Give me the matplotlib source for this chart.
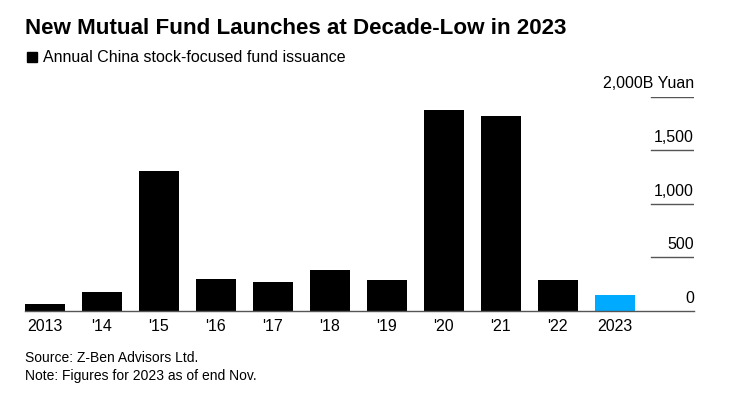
import matplotlib.pyplot as plt
import numpy as np

plt.rcParams['font.family'] = ['Liberation Sans', 'DejaVu Sans']

years = ['2013', "'14", "'15", "'16", "'17", "'18", "'19", "'20", "'21", "'22", '2023']
issuance = [65, 178, 1308, 299, 271, 383, 290, 1879, 1822, 290, 150]
colors = ['#000000'] * 10 + ['#00abff']
yticks = [0, 500, 1000, 1500, 2000]
ylabels = ['0', '500', '1,000', '1,500', '2,000B Yuan']

W, H = 748, 395
fig = plt.figure(figsize=(W / 100, H / 100), dpi=100)
ax = fig.add_axes([25 / W, 84 / H, (694 - 25) / W, (311 - 96.7) / H])

x = np.arange(len(years))
ax.bar(x, issuance, width=0.7, color=colors, zorder=2)
ax.set_xlim(-0.35, 11.39)
ax.set_ylim(0, 2000)

for s in ['top', 'right', 'left']:
    ax.spines[s].set_visible(False)
ax.spines['bottom'].set_color('#555555')
ax.spines['bottom'].set_linewidth(1)
ax.set_yticks([])
ax.set_xticks(x)
ax.set_xticklabels(years, fontsize=11.5)
ax.tick_params(axis='x', length=0, pad=6)

for v, lab in zip(yticks, ylabels):
    if v > 0:
        ax.axhline(v, xmin=0.936, xmax=1, color='#555555', lw=1, zorder=1)
    ax.annotate(lab, xy=(1, v), xycoords=ax.get_yaxis_transform(),
                xytext=(0, 6), textcoords='offset points',
                ha='right', va='baseline', fontsize=11.5)

fig.text(25 / W, 1 - 28 / H, 'New Mutual Fund Launches at Decade-Low in 2023',
         fontsize=16.1, fontweight='bold', va='center', ha='left')
fig.patches.append(plt.Rectangle((27 / W, 1 - 62 / H), 10 / W, 10 / H,
                                 transform=fig.transFigure, color='black'))
fig.text(43 / W, 1 - 57 / H, 'Annual China stock-focused fund issuance',
         fontsize=11.5, va='center', ha='left')
fig.text(25 / W, 1 - 358 / H, 'Source: Z-Ben Advisors Ltd.', fontsize=10,
         va='center', ha='left')
fig.text(25 / W, 1 - 376 / H, 'Note: Figures for 2023 as of end Nov.', fontsize=10,
         va='center', ha='left')

fig.savefig('out.png', dpi=100)
